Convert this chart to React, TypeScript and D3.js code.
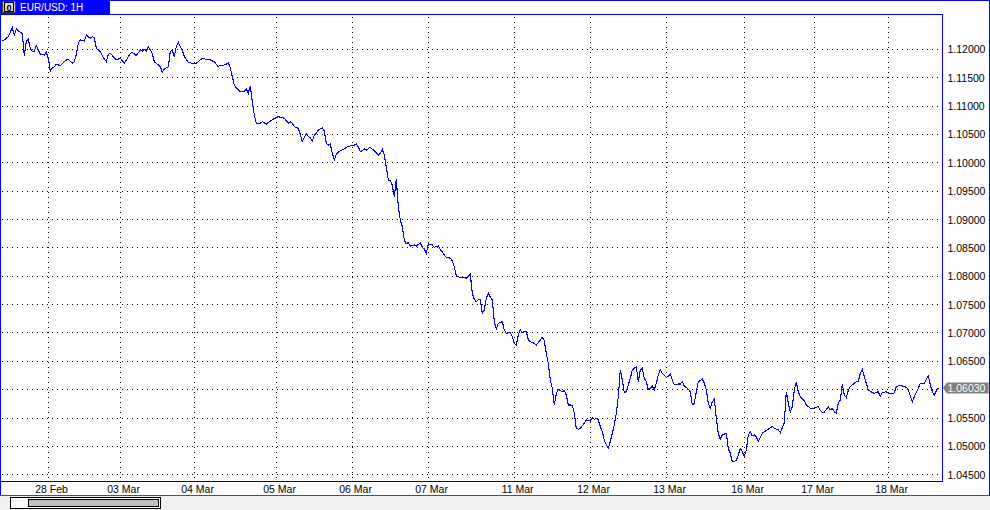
import React from "react";
import * as d3 from "d3";

const symbolTitle = "EUR/USD: 1H";

const hours = [
  1, 3, 4, 6, 7, 8, 10, 11, 12, 13, 14, 15, 16, 17, 18, 19, 20, 22, 23, 24, 25, 26, 27, 28, 30, 32, 33, 34, 36, 37, 38, 39, 40, 42, 43, 45, 46, 47, 48, 50,
  51, 53, 54, 55, 57, 58, 60, 62, 63, 65, 66, 68, 70, 71, 72, 73, 74, 76, 77, 80, 81, 82, 84, 85, 86, 87, 88, 89, 90, 91, 92, 94, 96, 98, 100, 101, 103, 105, 107, 109,
  110, 111, 113, 114, 115, 116, 117, 118, 120, 122, 123, 124, 125, 126, 127, 128, 130, 131, 133, 135, 136, 139, 141, 142, 144, 145, 146, 147, 149, 150, 151, 153, 154, 155, 156, 157, 158, 159, 161, 162,
  163, 164, 165, 166, 167, 168, 170, 172, 173, 175, 177, 178, 179, 180, 182, 183, 185, 186, 187, 189, 190, 191, 192, 193, 194, 195, 196, 197, 198, 199, 200, 201, 202, 203, 204, 205, 207, 208, 210, 211,
  212, 213, 214, 216, 217, 219, 220, 222, 223, 225, 226, 227, 228, 230, 231, 233, 235, 236, 237, 238, 239, 240, 241, 242, 243, 244, 245, 246, 247, 248, 249, 250, 251, 252, 253, 255, 256, 257, 258, 259,
  260, 261, 262, 263, 264, 265, 267, 268, 270, 271, 272, 273, 274, 275, 276, 277, 278, 279, 280, 281, 282, 283, 284, 285, 286, 287, 288, 289, 290, 292, 293, 295, 296, 297, 298, 299, 300, 301, 302, 303,
  304, 305, 306, 307, 308, 309, 310, 311, 312, 313, 314, 315, 316, 318, 319, 320, 321, 322, 323, 324, 325, 326, 327, 328, 329, 330, 331, 333, 334, 335, 336, 337, 339, 340, 341, 342, 344, 345, 346, 347,
  348, 349, 351, 352, 353, 354, 355, 356, 357, 358, 359, 360, 361, 363, 364, 365, 366, 368, 369, 370, 371, 372, 373, 374, 375, 376, 377, 378, 379, 381, 382, 384, 386, 387, 389, 390, 392, 393, 394, 395,
  396, 397, 398, 399, 400, 402, 403, 405, 407, 408, 409, 410, 411, 412, 414, 415, 416, 417, 418, 419, 420, 421, 422, 423, 424, 425, 427, 428, 429, 430, 431, 432, 433, 434, 436, 437, 439, 440, 441, 443,
  444, 446, 447, 448, 450, 451, 453, 454, 456, 457, 458, 459, 460, 461, 462, 463, 464, 465, 466, 467, 468, 469,
];

const prices = [
  1.12146, 1.12194, 1.12222, 1.12381, 1.12252, 1.12358, 1.123, 1.12282, 1.11887, 1.12146, 1.12182, 1.12018, 1.11958, 1.1197, 1.12063, 1.11988, 1.11912, 1.119, 1.11947, 1.11841,
  1.11618, 1.11665, 1.11693, 1.11736, 1.11711, 1.11782, 1.11812, 1.11824, 1.11753, 1.11782, 1.11912, 1.12106, 1.12164, 1.12146, 1.12252, 1.12194, 1.12222, 1.12205, 1.12018, 1.11958,
  1.11887, 1.11782, 1.11912, 1.1193, 1.11852, 1.11812, 1.11841, 1.11753, 1.11812, 1.1193, 1.11947, 1.11887, 1.11988, 1.1197, 1.12, 1.11975, 1.12046, 1.1193, 1.11782, 1.11693,
  1.11595, 1.11648, 1.11693, 1.11958, 1.11988, 1.1187, 1.12046, 1.12123, 1.12046, 1.11988, 1.1187, 1.11771, 1.11753, 1.11753, 1.11812, 1.11841, 1.11824, 1.11812, 1.11782, 1.11693,
  1.11723, 1.11711, 1.11736, 1.11764, 1.11676, 1.11517, 1.11371, 1.11323, 1.11253, 1.11265, 1.113, 1.11225, 1.11359, 1.11077, 1.10842, 1.10696, 1.10696, 1.10724, 1.10683, 1.10736,
  1.10759, 1.10812, 1.10795, 1.10784, 1.10696, 1.10724, 1.10696, 1.10636, 1.10608, 1.10502, 1.10372, 1.1052, 1.1046, 1.10442, 1.10384, 1.1049, 1.1052, 1.10578, 1.10618, 1.1056,
  1.10343, 1.10313, 1.10331, 1.10167, 1.10049, 1.10155, 1.10213, 1.10243, 1.10273, 1.10296, 1.10308, 1.10331, 1.10283, 1.10195, 1.10243, 1.10225, 1.10273, 1.10238, 1.10213, 1.10137,
  1.10167, 1.10238, 1.10137, 1.09926, 1.09697, 1.09684, 1.09608, 1.09402, 1.09709, 1.09226, 1.08992, 1.08874, 1.08639, 1.08569, 1.08592, 1.08533, 1.08551, 1.08533, 1.08581, 1.0851,
  1.0848, 1.08405, 1.08569, 1.08551, 1.0851, 1.08533, 1.08475, 1.08375, 1.08334, 1.08317, 1.08274, 1.08169, 1.08005, 1.07975, 1.07982, 1.07964, 1.08035, 1.077, 1.07594, 1.07552,
  1.07582, 1.07594, 1.07347, 1.07406, 1.07612, 1.077, 1.07629, 1.07582, 1.07199, 1.07065, 1.07171, 1.07182, 1.07199, 1.07053, 1.06995, 1.07005, 1.06935, 1.06819, 1.06789, 1.06965,
  1.07053, 1.07005, 1.07023, 1.07023, 1.06877, 1.06847, 1.06819, 1.06789, 1.06877, 1.06924, 1.06864, 1.06642, 1.06466, 1.06172, 1.06025, 1.05731, 1.05925, 1.06008, 1.05983, 1.05966,
  1.05983, 1.05907, 1.05731, 1.05731, 1.05726, 1.05585, 1.05321, 1.05303, 1.05321, 1.05409, 1.05467, 1.05449, 1.05514, 1.05479, 1.05497, 1.05467, 1.05349, 1.05261, 1.05114, 1.05026,
  1.04968, 1.05084, 1.05232, 1.05379, 1.05585, 1.05877, 1.06348, 1.06172, 1.05948, 1.05966, 1.06084, 1.06202, 1.06348, 1.06406, 1.06142, 1.06348, 1.06378, 1.06202, 1.06142, 1.05996,
  1.06025, 1.06066, 1.05996, 1.06114, 1.0626, 1.06348, 1.0629, 1.06219, 1.0623, 1.06278, 1.06172, 1.06084, 1.06101, 1.06101, 1.06142, 1.06066, 1.06008, 1.05966, 1.05731, 1.05761,
  1.05966, 1.06142, 1.06184, 1.06114, 1.05996, 1.05761, 1.05673, 1.05789, 1.05832, 1.05497, 1.05232, 1.05127, 1.05202, 1.05232, 1.0495, 1.0488, 1.04732, 1.04749, 1.0485, 1.04968,
  1.04908, 1.0482, 1.04938, 1.05202, 1.05261, 1.05185, 1.05202, 1.05172, 1.05084, 1.05232, 1.05261, 1.05303, 1.05349, 1.05321, 1.05291, 1.05243, 1.05419, 1.05966, 1.05761, 1.05613,
  1.05701, 1.05996, 1.06131, 1.05966, 1.05877, 1.05807, 1.05731, 1.05673, 1.05673, 1.05691, 1.05701, 1.05631, 1.05603, 1.05603, 1.05701, 1.05643, 1.05673, 1.05613, 1.05585, 1.05761,
  1.05819, 1.06096, 1.05907, 1.0586, 1.05983, 1.06054, 1.06114, 1.06142, 1.06142, 1.0629, 1.0636, 1.0623, 1.06114, 1.05996, 1.05948, 1.05937, 1.05966, 1.05877, 1.05948, 1.05966,
  1.05937, 1.05925, 1.05948, 1.06054, 1.06078, 1.06066, 1.06043, 1.05996, 1.05789, 1.05877, 1.05948, 1.06025, 1.06114, 1.06101, 1.06114, 1.06184, 1.06242, 1.06084, 1.05966, 1.05907,
  1.05983, 1.0603,
];

const dateTickHours = [24, 60, 97, 138, 176, 214, 257, 295, 333, 372, 407, 444];
const dateTickLabels = ["28 Feb", "03 Mar", "04 Mar", "05 Mar", "06 Mar", "07 Mar", "11 Mar", "12 Mar", "13 Mar", "16 Mar", "17 Mar", "18 Mar"];
const priceTicks = [1.045, 1.05, 1.055, 1.06, 1.065, 1.07, 1.075, 1.08, 1.085, 1.09, 1.095, 1.1, 1.105, 1.11, 1.115, 1.12].filter((v) => v !== 1.06);

const W = 990;
const H = 510;
const plotRight = 942;
const plotTop = 14;
const plotBottom = 481;
const FONT = "'Liberation Sans', Arial, sans-serif";
const BLUE = "#0000ff";

export default function App() {
  const x = d3.scaleLinear().domain([0, 470]).range([0.3, 940.3]);
  const y = d3.scaleLinear().domain([1.045, 1.12]).range([474.8, 49.3]);
  const data = hours.map((h, i) => [h, prices[i]] as [number, number]);
  const line = d3
    .line<[number, number]>()
    .x((d) => x(d[0]))
    .y((d) => y(d[1]));
  const lastPrice = prices[prices.length - 1];
  const ly = y(lastPrice);
  const allGrid = [1.045, 1.05, 1.055, 1.06, 1.065, 1.07, 1.075, 1.08, 1.085, 1.09, 1.095, 1.1, 1.105, 1.11, 1.115, 1.12];

  return (
    <div style={{ position: "fixed", left: 0, top: 0, width: W, height: H }}>
      <svg width={W} height={H} style={{ display: "block" }} fontFamily={FONT}>
        <rect x={0} y={0} width={W} height={H} fill="#ffffff" />
        <rect x={0} y={495} width={W} height={15} fill="#f0f0f0" />

        {/* grid */}
        <g stroke="#000" strokeWidth={1} strokeDasharray="1,4" shapeRendering="crispEdges">
          {allGrid.map((v) => (
            <line key={"h" + v} x1={2} x2={plotRight} y1={Math.floor(y(v)) + 0.5} y2={Math.floor(y(v)) + 0.5} />
          ))}
          {dateTickHours.map((h) => (
            <line key={"v" + h} x1={Math.round(x(h)) + 0.5} x2={Math.round(x(h)) + 0.5} y1={plotTop + 3} y2={plotBottom} />
          ))}
        </g>

        {/* price line */}
        <path d={line(data) || ""} fill="none" stroke={BLUE} strokeWidth={1.1} shapeRendering="crispEdges" />

        {/* frames */}
        <g shapeRendering="crispEdges" strokeWidth={1}>
          <line x1={0} x2={W} y1={0.5} y2={0.5} stroke={BLUE} />
          <line x1={0} x2={plotRight} y1={plotTop + 0.5} y2={plotTop + 0.5} stroke={BLUE} />
          <line x1={plotRight + 0.5} x2={plotRight + 0.5} y1={plotTop} y2={plotBottom + 1} stroke={BLUE} />
          <line x1={0} x2={plotRight + 1} y1={plotBottom + 0.5} y2={plotBottom + 0.5} stroke="#000080" />
          <line x1={0.5} x2={0.5} y1={0} y2={495} stroke={BLUE} />
          <line x1={989.5} x2={989.5} y1={0} y2={495} stroke={BLUE} />
          <line x1={0} x2={W} y1={495.5} y2={495.5} stroke="#2b57a6" />
        </g>

        {/* title tab */}
        <rect x={0} y={0} width={110} height={14} fill={BLUE} />
        <rect x={2.5} y={1.5} width={13} height={11} fill="#c0c0c0" stroke="#404040" />
        <rect x={4.5} y={2.5} width={9} height={9} fill="#d8d8d8" stroke="#000" />
        <text x={9} y={10.5} fontSize={9} fontWeight="bold" textAnchor="middle" fill="#000">0</text>
        <text x={20} y={11} fontSize={10} fill="#ffffff">{symbolTitle}</text>

        {/* price labels */}
        {priceTicks.map((v) => (
          <text key={"t" + v} x={947.5} y={y(v) + 4} fontSize={10.5} fill="#000">
            {d3.format(".5f")(v)}
          </text>
        ))}

        {/* current price marker */}
        <polygon
          points={`943,${ly} 947,${ly - 5.5} 988.5,${ly - 5.5} 988.5,${ly + 5.5} 947,${ly + 5.5}`}
          fill="#808080"
        />
        <text x={947.5} y={ly + 4} fontSize={10.5} fill="#ffffff">
          {d3.format(".5f")(lastPrice)}
        </text>

        {/* date labels */}
        {dateTickHours.map((h, i) => (
          <text key={"d" + h} x={x(h) + 3.3} y={492.5} fontSize={10.5} textAnchor="middle" fill="#000">
            {dateTickLabels[i]}
          </text>
        ))}

        {/* scrollbar */}
        <rect x={10.5} y={497.5} width={150} height={11} fill="#fbfbfb" stroke="#000" shapeRendering="crispEdges" />
        <rect x={28.5} y={499.5} width={130} height={7} fill="#c0c0c0" stroke="#000" shapeRendering="crispEdges" />
      </svg>
    </div>
  );
}
